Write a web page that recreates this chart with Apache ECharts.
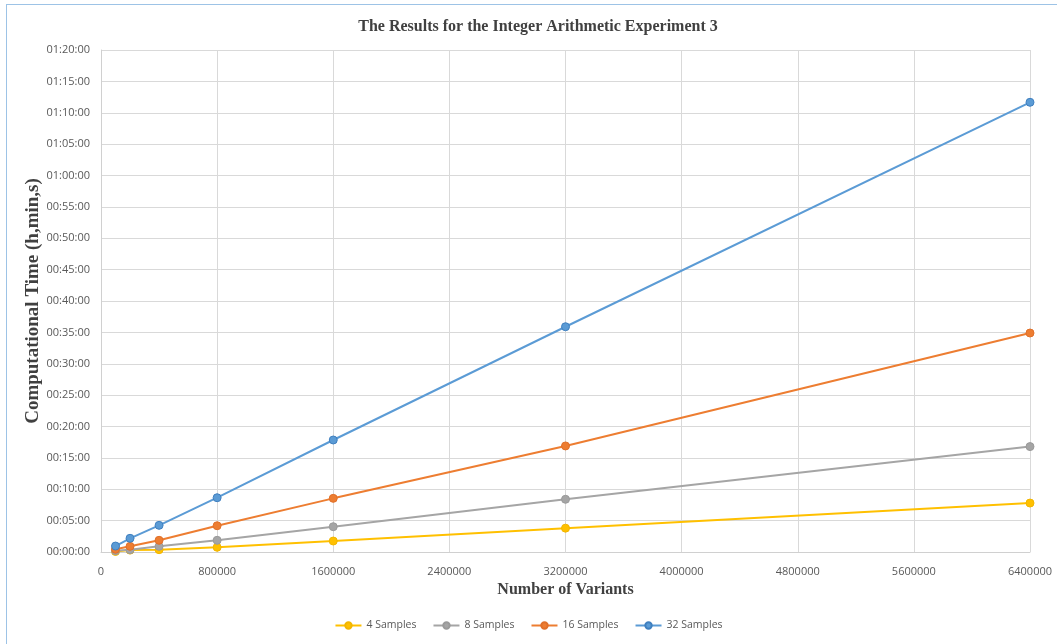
<!DOCTYPE html>
<html>
<head>
<meta charset="utf-8">
<script src="https://cdn.jsdelivr.net/npm/echarts@6/dist/echarts.min.js"></script>
<style>
html,body{margin:0;padding:0;background:#fff;}
#frame{position:absolute;left:6px;top:4px;width:1051px;height:640px;border-top:1px solid #9dc3e6;border-left:1px solid #9dc3e6;box-sizing:border-box;}
#chart{position:absolute;left:0;top:0;width:1057px;height:644px;}
</style>
</head>
<body>
<div id="frame"></div>
<div id="chart"></div>
<script>
// Number of variants (x values)
const variants = [100000, 200000, 400000, 800000, 1600000, 3200000, 6400000];
// Computational time in seconds
const samples4  = [5, 18, 22, 45, 105, 228, 468];
const samples8  = [12, 22, 54, 112, 242, 504, 1008];
const samples16 = [26, 54, 112, 251, 513, 1014, 2094];
const samples32 = [57, 131, 255, 519, 1071, 2154, 4300];
const seriesNames = ['4 Samples', '8 Samples', '16 Samples', '32 Samples'];
const seriesData = [samples4, samples8, samples16, samples32];
const colors = ['#FFC000', '#A5A5A5', '#ED7D31', '#5B9BD5'];
const borders = ['#F2B600', '#9A9A9A', '#E0702A', '#3F7FBF'];

function fmt(v){
  const h = Math.floor(v/3600), m = Math.floor((v%3600)/60), s = Math.round(v%60);
  const p = n => String(n).padStart(2,'0');
  return p(h)+':'+p(m)+':'+p(s);
}

const chart = echarts.init(document.getElementById('chart'), null, {renderer:'canvas'});
chart.setOption({
  animation:false,
  backgroundColor:'transparent',
  title:{
    text:'The Results for the Integer Arithmetic Experiment 3',
    left:533, top:14, textAlign:'center',
    textStyle:{fontFamily:'Liberation Serif', fontWeight:'bold', fontSize:16, color:'#404040'}
  },
  legend:{
    bottom:8, left:'center',
    itemWidth:26, itemHeight:8, itemGap:16,
    textStyle:{fontFamily:'Open Sans', fontSize:10.5, color:'#595959'},
    data:seriesNames
  },
  grid:{left:101, right:27, top:50, bottom:92},
  xAxis:{
    type:'value', min:0, max:6400000, interval:800000,
    name:'Number of Variants', nameLocation:'middle', nameGap:30,
    nameTextStyle:{fontFamily:'Liberation Serif', fontWeight:'bold', fontSize:16, color:'#404040'},
    axisLine:{show:true, lineStyle:{color:'#d0d0d0'}},
    axisTick:{show:false},
    axisLabel:{fontFamily:'Open Sans', fontSize:11, color:'#595959', margin:14, formatter: v => String(v)},
    splitLine:{show:true, lineStyle:{color:'#d9d9d9'}}
  },
  yAxis:{
    type:'value', min:0, max:4800, interval:300,
    name:'Computational Time (h,min,s)', nameLocation:'middle', nameGap:58, nameRotate:90,
    nameMoveOverlap:false,
    nameTextStyle:{fontFamily:'Liberation Serif', fontWeight:'bold', fontSize:19, color:'#404040'},
    axisLine:{show:true, lineStyle:{color:'#d0d0d0'}},
    axisTick:{show:false},
    axisLabel:{fontFamily:'Open Sans', fontSize:11, color:'#595959', margin:11, formatter:fmt},
    splitLine:{show:true, lineStyle:{color:'#d9d9d9'}}
  },
  series: seriesNames.map((n,i)=>({
    name:n, type:'line',
    data: variants.map((x,j)=>[x, seriesData[i][j]]),
    symbol:'circle', symbolSize:8,
    lineStyle:{color:colors[i], width:2},
    itemStyle:{color:colors[i], borderColor:borders[i], borderWidth:1},
    z: 2+i
  }))
});
</script>
</body>
</html>
